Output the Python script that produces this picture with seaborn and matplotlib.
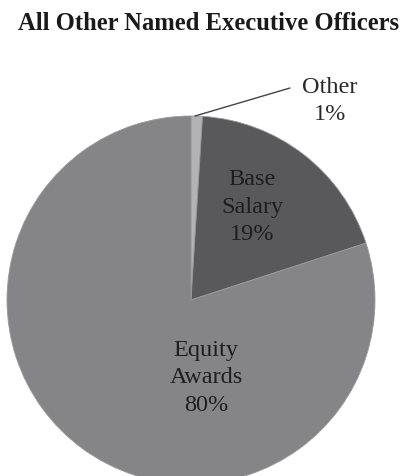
import matplotlib
matplotlib.use("Agg")
import matplotlib.pyplot as plt
import seaborn as sns

title = "All Other Named Executive Officers"
categories = ["Other", "Base Salary", "Equity Awards"]
values = [1, 19, 80]
label_texts = ["Other\n1%", "Base\nSalary\n19%", "Equity\nAwards\n80%"]

sns.set_theme(style="white")
plt.rcParams['font.family'] = ['Liberation Serif', 'DejaVu Serif']

colors = ["#b3b3b5", "#59595b", "#858587"]

W, H = 403, 477
fig = plt.figure(figsize=(W / 100, H / 100), dpi=100)
ax = fig.add_axes([0, 0, 1, 1])

cx, cy, r = 191, H - 301, 184
ax.pie(values, colors=colors, startangle=90, counterclock=False,
       center=(cx, cy), radius=r, frame=True,
       wedgeprops=dict(linewidth=0.6, edgecolor="#9a9a9c"))
ax.set_xlim(0, W)
ax.set_ylim(0, H)
ax.set_aspect('equal')
ax.axis('off')

fig.text(0.518, 1 - 24 / H, title, ha='center', va='center',
         fontsize=17.7, fontweight='bold', color='#1a1a1a')

fs = 17.5
ls = 1.38
ax.text(330, H - 101, label_texts[0], ha='center', va='center',
        fontsize=fs, color='#2a2a2a', linespacing=ls)
ax.text(252, H - 207, label_texts[1], ha='center', va='center',
        fontsize=fs, color='#1e1e1e', linespacing=ls)
ax.text(206, H - 378, label_texts[2], ha='center', va='center',
        fontsize=fs, color='#1e1e1e', linespacing=ls)
ax.plot([195, 290], [H - 117, H - 89], color='#444444', linewidth=1.0)

fig.savefig("out.png", dpi=100, facecolor='white')
